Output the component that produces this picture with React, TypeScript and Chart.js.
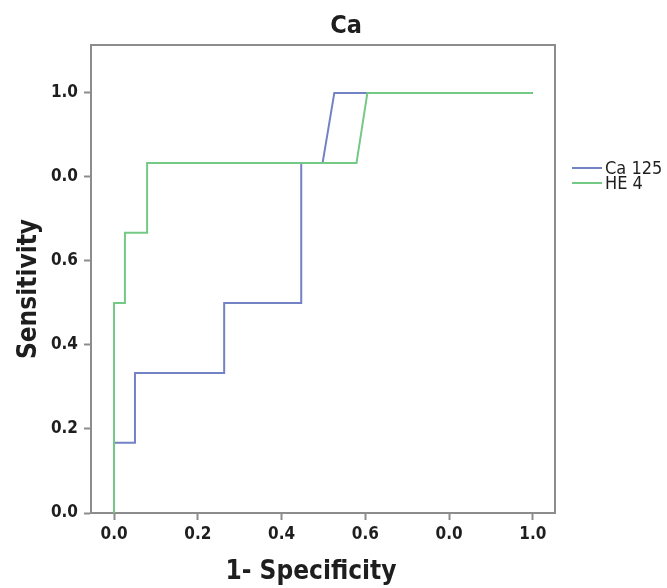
import React, { useEffect, useRef } from "react";
import { Chart, registerables } from "chart.js";

Chart.register(...registerables);

const ca125X = [0, 0, 0.05, 0.05, 0.263, 0.263, 0.447, 0.447, 0.498, 0.526, 0.605, 1.0];
const ca125Y = [0, 0.167, 0.167, 0.333, 0.333, 0.5, 0.5, 0.833, 0.833, 1.0, 1.0, 1.0];
const he4X = [0, 0, 0.026, 0.026, 0.079, 0.079, 0.579, 0.605, 1.0];
const he4Y = [0, 0.5, 0.5, 0.667, 0.667, 0.833, 0.833, 1.0, 1.0];

const xTickValues = [0, 0.2, 0.4, 0.6, 0.8, 1.0];
const xTickLabels = ["0.0", "0.2", "0.4", "0.6", "0.0", "1.0"];
const yTickValues = [0, 0.2, 0.4, 0.6, 0.8, 1.0];
const yTickLabels = ["0.0", "0.2", "0.4", "0.6", "0.0", "1.0"];

const seriesNames = ["Ca 125", "HE 4"];
const seriesColors = ["#7282c4", "#74c985"];

const chartTitle = "Ca";
const xTitle = "1- Specificity";
const yTitle = "Sensitivity";

const FONT = "'DejaVu Sans Condensed', 'Liberation Sans Narrow', sans-serif";
const AXIS = "#8c8c8c";
const TEXT = "#1e1e1e";

export default function App() {
  const ref = useRef<HTMLCanvasElement | null>(null);

  useEffect(() => {
    document.body.style.margin = "0";
    const canvas = ref.current;
    if (!canvas) return;

    const decor = {
      id: "decor",
      afterDraw(chart: any) {
        const { ctx, chartArea } = chart;
        ctx.save();
        ctx.strokeStyle = AXIS;
        ctx.lineWidth = 2;
        ctx.beginPath();
        ctx.moveTo(chartArea.left, chartArea.top);
        ctx.lineTo(chartArea.right, chartArea.top);
        ctx.lineTo(chartArea.right, chartArea.bottom);
        ctx.stroke();

        ctx.fillStyle = TEXT;
        ctx.textAlign = "center";
        ctx.textBaseline = "middle";
        ctx.font = `bold 25px ${FONT}`;
        ctx.fillText(chartTitle, 346, 26);

        ctx.font = `bold 26px ${FONT}`;
        ctx.fillText(xTitle, 311, 572);

        ctx.save();
        ctx.translate(29, 289);
        ctx.rotate(-Math.PI / 2);
        ctx.fillText(yTitle, 0, 0);
        ctx.restore();

        // legend
        const ly = [168, 183];
        ctx.font = `18px ${FONT}`;
        ctx.textAlign = "left";
        seriesNames.forEach((name, i) => {
          ctx.strokeStyle = seriesColors[i];
          ctx.lineWidth = 2;
          ctx.beginPath();
          ctx.moveTo(572, ly[i]);
          ctx.lineTo(602, ly[i]);
          ctx.stroke();
          ctx.fillStyle = TEXT;
          ctx.fillText(name, 605, ly[i] + 1);
        });
        ctx.restore();
      },
    };

    const mkTicks = (values: number[]) => (scale: any) => {
      scale.ticks = values.map((v) => ({ value: v }));
    };

    const chart = new Chart(canvas, {
      type: "line",
      data: {
        datasets: [
          {
            label: seriesNames[0],
            data: ca125X.map((x, i) => ({ x, y: ca125Y[i] })),
            borderColor: seriesColors[0],
            borderWidth: 2,
            pointRadius: 0,
            tension: 0,
            fill: false,
            order: 1,
          },
          {
            label: seriesNames[1],
            data: he4X.map((x, i) => ({ x, y: he4Y[i] })),
            borderColor: seriesColors[1],
            borderWidth: 2,
            pointRadius: 0,
            tension: 0,
            fill: false,
            order: 0,
          },
        ],
      },
      options: {
        animation: false,
        responsive: false,
        layout: { padding: { left: 0, right: 112, top: 45, bottom: 0 } },
        plugins: {
          legend: { display: false },
          title: { display: false },
          tooltip: { enabled: false },
        },
        scales: {
          x: {
            type: "linear",
            min: -0.055,
            max: 1.053,
            afterBuildTicks: mkTicks(xTickValues),
            afterFit: (s: any) => {
              s.height = 75;
            },
            grid: {
              display: true,
              drawOnChartArea: false,
              drawTicks: true,
              tickLength: 7,
              tickColor: AXIS,
              tickWidth: 2,
            },
            border: { display: true, color: AXIS, width: 2 },
            ticks: {
              padding: 4,
              color: TEXT,
              font: { family: FONT, size: 17, weight: "bold" },
              maxRotation: 0,
              callback: (_v: any, i: number) => xTickLabels[i],
            },
          },
          y: {
            type: "linear",
            min: 0,
            max: 1.114,
            afterBuildTicks: mkTicks(yTickValues),
            afterFit: (s: any) => {
              s.width = 91;
            },
            grid: {
              display: true,
              drawOnChartArea: false,
              drawTicks: true,
              tickLength: 7,
              tickColor: AXIS,
              tickWidth: 2,
            },
            border: { display: true, color: AXIS, width: 2 },
            ticks: {
              padding: 6,
              color: TEXT,
              font: { family: FONT, size: 17, weight: "bold" },
              callback: (_v: any, i: number) => yTickLabels[i],
            },
          },
        },
      },
      plugins: [decor],
    });

    return () => chart.destroy();
  }, []);

  return (
    <div style={{ width: 667, height: 588, position: "relative", background: "#fff" }}>
      <canvas ref={ref} width={667} height={588} />
    </div>
  );
}
